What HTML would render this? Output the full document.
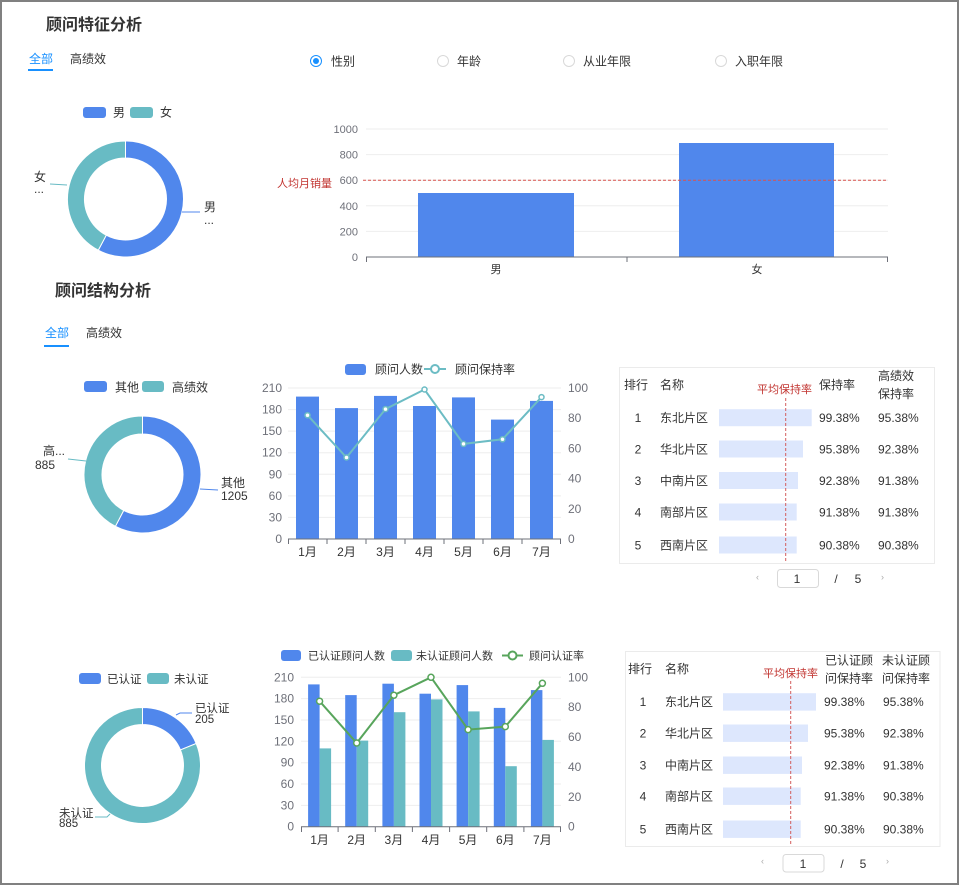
<!DOCTYPE html>
<html><head><meta charset="utf-8">
<style>
html,body{margin:0;padding:0;background:#fff;}
svg{display:block;font-family:"Liberation Sans","Noto Sans CJK SC",sans-serif;}
.t{font-size:12px;fill:#333;}
.ax{font-size:11px;fill:#6e7079;}
.ax2{font-size:12px;fill:#6e7079;}
.red{fill:#c23531;font-size:11px;}
</style></head>
<body>
<svg width="959" height="885" viewBox="0 0 959 885" xmlns="http://www.w3.org/2000/svg">
<rect x="1" y="1" width="957" height="883" fill="#fff" stroke="#808080" stroke-width="2"/>

<!-- Section 1 -->
<text x="46" y="30" font-size="16" font-weight="bold" fill="#333">顾问特征分析</text>
<text x="29" y="63" class="t" fill="#1890ff" style="fill:#1890ff">全部</text>
<rect x="28" y="69" width="25" height="2" fill="#1890ff"/>
<text x="70" y="63" class="t">高绩效</text>

<!-- radios -->
<circle cx="316" cy="61" r="5.5" fill="#fff" stroke="#1890ff" stroke-width="1"/>
<circle cx="316" cy="61" r="3" fill="#1890ff"/>
<text x="331" y="65.5" class="t">性别</text>
<circle cx="443" cy="61" r="5.5" fill="#fff" stroke="#d9d9d9"/>
<text x="457" y="65.5" class="t">年龄</text>
<circle cx="569" cy="61" r="5.5" fill="#fff" stroke="#d9d9d9"/>
<text x="583" y="65.5" class="t">从业年限</text>
<circle cx="721" cy="61" r="5.5" fill="#fff" stroke="#d9d9d9"/>
<text x="735" y="65.5" class="t">入职年限</text>

<!-- donut 1 -->
<rect x="83" y="107" width="23" height="11" rx="3" fill="#5087ec"/>
<text x="113" y="116.5" class="t">男</text>
<rect x="130" y="107" width="23" height="11" rx="3" fill="#68bbc4"/>
<text x="160" y="116.5" class="t">女</text>
<path d="M125.5 141 A58 58 0 1 1 98.27 250.21 L106.25 235.2 A41 41 0 1 0 125.5 158 Z" fill="#5087ec" stroke="#fff" stroke-width="1"/>
<path d="M98.27 250.21 A58 58 0 0 1 125.5 141 L125.5 158 A41 41 0 0 0 106.25 235.2 Z" fill="#68bbc4" stroke="#fff" stroke-width="1"/>
<polyline points="50,184 67,185" fill="none" stroke="#68bbc4"/>
<polyline points="182,212 200,212" fill="none" stroke="#5087ec"/>
<text x="34" y="181" class="t">女</text>
<text x="34" y="193" class="t">...</text>
<text x="204" y="211" class="t">男</text>
<text x="204" y="224" class="t">...</text>

<!-- bar chart 1 -->
<g stroke="#eeeeee" stroke-width="1">
<line x1="366" y1="129" x2="888" y2="129"/>
<line x1="366" y1="154.6" x2="888" y2="154.6"/>
<line x1="366" y1="205.8" x2="888" y2="205.8"/>
<line x1="366" y1="231.4" x2="888" y2="231.4"/>
<line x1="366" y1="180.2" x2="888" y2="180.2"/>
</g>
<rect x="418" y="193" width="156" height="64" fill="#5087ec"/>
<rect x="679" y="143" width="155" height="114" fill="#5087ec"/>
<line x1="363" y1="180.2" x2="888" y2="180.2" stroke="#d9534f" stroke-dasharray="3,2" stroke-width="1"/>
<line x1="366" y1="257" x2="888" y2="257" stroke="#6e7079"/>
<g stroke="#6e7079"><line x1="366.5" y1="257" x2="366.5" y2="262"/><line x1="627" y1="257" x2="627" y2="262"/><line x1="887.5" y1="257" x2="887.5" y2="262"/></g>
<g class="ax" text-anchor="end">
<text x="358" y="133">1000</text><text x="358" y="158.6">800</text><text x="358" y="184.2">600</text>
<text x="358" y="209.8">400</text><text x="358" y="235.4">200</text><text x="358" y="261">0</text>
</g>
<text x="277" y="187" class="red">人均月销量</text>
<text x="496" y="273" class="ax" text-anchor="middle" style="fill:#333">男</text>
<text x="757" y="273" class="ax" text-anchor="middle" style="fill:#333">女</text>

<!-- Section 2 -->
<text x="55" y="296" font-size="16" font-weight="bold" fill="#333">顾问结构分析</text>
<text x="45" y="337" class="t" style="fill:#1890ff">全部</text>
<rect x="44" y="345" width="25" height="2" fill="#1890ff"/>
<text x="86" y="337" class="t">高绩效</text>

<!-- donut 2 -->
<rect x="84" y="381" width="23" height="11" rx="3" fill="#5087ec"/>
<text x="115" y="391.5" class="t">其他</text>
<rect x="142" y="381" width="22" height="11" rx="3" fill="#68bbc4"/>
<text x="172" y="391.5" class="t">高绩效</text>
<path d="M142.5 416 A58.5 58.5 0 1 1 115.4 526.34 L123.74 510.39 A40.5 40.5 0 1 0 142.5 434 Z" fill="#5087ec" stroke="#fff" stroke-width="1"/>
<path d="M115.4 526.34 A58.5 58.5 0 0 1 142.5 416 L142.5 434 A40.5 40.5 0 0 0 123.74 510.39 Z" fill="#68bbc4" stroke="#fff" stroke-width="1"/>
<polyline points="68,459 86,461" fill="none" stroke="#68bbc4"/>
<polyline points="200,489 218,490" fill="none" stroke="#5087ec"/>
<text x="43" y="455" class="t">高...</text>
<text x="35" y="469" class="t">885</text>
<text x="221" y="487" class="t">其他</text>
<text x="221" y="500" class="t">1205</text>

<!-- chart 2 -->
<rect x="345" y="364" width="21" height="11" rx="3" fill="#5087ec"/>
<text x="375" y="373.5" class="t">顾问人数</text>
<line x1="424" y1="369" x2="446" y2="369" stroke="#6cbcc4" stroke-width="2"/>
<circle cx="435" cy="369" r="4" fill="#fff" stroke="#6cbcc4" stroke-width="2"/>
<text x="455" y="373.5" class="t">顾问保持率</text>
<g stroke="#eeeeee">
<line x1="288" y1="388" x2="561" y2="388"/><line x1="288" y1="409.6" x2="561" y2="409.6"/>
<line x1="288" y1="431.1" x2="561" y2="431.1"/><line x1="288" y1="452.7" x2="561" y2="452.7"/>
<line x1="288" y1="474.3" x2="561" y2="474.3"/><line x1="288" y1="495.9" x2="561" y2="495.9"/>
<line x1="288" y1="517.4" x2="561" y2="517.4"/>
</g>
<g fill="#5087ec">
<rect x="296" y="396.6" width="23" height="142.4"/>
<rect x="335" y="408.1" width="23" height="130.9"/>
<rect x="374" y="395.9" width="23" height="143.1"/>
<rect x="413" y="406" width="23" height="133"/>
<rect x="452" y="397.4" width="23" height="141.6"/>
<rect x="491" y="419.6" width="23" height="119.4"/>
<rect x="530" y="400.9" width="23" height="138.1"/>
</g>
<line x1="288" y1="539" x2="561" y2="539" stroke="#6e7079"/>
<g stroke="#6e7079">
<line x1="288.5" y1="539" x2="288.5" y2="544"/><line x1="327" y1="539" x2="327" y2="544"/><line x1="366" y1="539" x2="366" y2="544"/>
<line x1="405" y1="539" x2="405" y2="544"/><line x1="444" y1="539" x2="444" y2="544"/><line x1="483" y1="539" x2="483" y2="544"/>
<line x1="522" y1="539" x2="522" y2="544"/><line x1="560.5" y1="539" x2="560.5" y2="544"/>
</g>
<polyline points="307.5,415.2 346.5,457.5 385.5,409.1 424.5,389.5 463.5,443.9 502.5,439.3 541.5,397.1" fill="none" stroke="#6cbcc4" stroke-width="2"/>
<g fill="#fff" stroke="#6cbcc4" stroke-width="1.5">
<circle cx="307.5" cy="415.2" r="2.5"/><circle cx="346.5" cy="457.5" r="2.5"/><circle cx="385.5" cy="409.1" r="2.5"/>
<circle cx="424.5" cy="389.5" r="2.5"/><circle cx="463.5" cy="443.9" r="2.5"/><circle cx="502.5" cy="439.3" r="2.5"/>
<circle cx="541.5" cy="397.1" r="2.5"/>
</g>
<g class="ax2" text-anchor="end">
<text x="282" y="392">210</text><text x="282" y="413.6">180</text><text x="282" y="435.1">150</text>
<text x="282" y="456.7">120</text><text x="282" y="478.3">90</text><text x="282" y="499.9">60</text>
<text x="282" y="521.4">30</text><text x="282" y="543">0</text>
</g>
<g class="ax2">
<text x="568" y="392">100</text><text x="568" y="422.2">80</text><text x="568" y="452.4">60</text>
<text x="568" y="482.6">40</text><text x="568" y="512.8">20</text><text x="568" y="543">0</text>
</g>
<g class="ax2" text-anchor="middle" style="fill:#333">
<text x="307.5" y="556">1月</text><text x="346.5" y="556">2月</text><text x="385.5" y="556">3月</text>
<text x="424.5" y="556">4月</text><text x="463.5" y="556">5月</text><text x="502.5" y="556">6月</text>
<text x="541.5" y="556">7月</text>
</g>

<!-- table 1 -->
<rect x="619.5" y="367.5" width="315" height="196" fill="none" stroke="#ebebeb"/>
<text x="624" y="389" class="t">排行</text>
<text x="660" y="389" class="t">名称</text>
<text x="757" y="393" class="red">平均保持率</text>
<text x="819" y="389" class="t">保持率</text>
<text x="878" y="380" class="t">高绩效</text>
<text x="878" y="398" class="t">保持率</text>
<g fill="#dde7fd">
<rect x="719" y="409.2" width="92.7" height="17"/>
<rect x="719" y="440.5" width="84" height="17"/>
<rect x="719" y="472" width="79" height="17"/>
<rect x="719" y="503.5" width="77.7" height="17"/>
<rect x="719" y="536.5" width="77.7" height="17"/>
</g>
<line x1="785.7" y1="398" x2="785.7" y2="563" stroke="#d35d5d" stroke-dasharray="3,2"/>
<g class="t">
<text x="638" y="422" text-anchor="middle">1</text><text x="660" y="422">东北片区</text><text x="819" y="422">99.38%</text><text x="878" y="422">95.38%</text>
<text x="638" y="453.5" text-anchor="middle">2</text><text x="660" y="453.5">华北片区</text><text x="819" y="453.5">95.38%</text><text x="878" y="453.5">92.38%</text>
<text x="638" y="485" text-anchor="middle">3</text><text x="660" y="485">中南片区</text><text x="819" y="485">92.38%</text><text x="878" y="485">91.38%</text>
<text x="638" y="516.5" text-anchor="middle">4</text><text x="660" y="516.5">南部片区</text><text x="819" y="516.5">91.38%</text><text x="878" y="516.5">91.38%</text>
<text x="638" y="549.5" text-anchor="middle">5</text><text x="660" y="549.5">西南片区</text><text x="819" y="549.5">90.38%</text><text x="878" y="549.5">90.38%</text>
</g>
<text x="756" y="580" font-size="9" fill="#aaa">‹</text>
<rect x="777.5" y="569.5" width="41" height="18" rx="3" fill="#fff" stroke="#d9d9d9"/>
<text x="797" y="583" class="t" text-anchor="middle">1</text>
<text x="836" y="583" class="t" text-anchor="middle">/</text>
<text x="858" y="583" class="t" text-anchor="middle">5</text>
<text x="881" y="580" font-size="9" fill="#aaa">›</text>

<!-- donut 3 -->
<rect x="79" y="673" width="22" height="11" rx="3" fill="#5087ec"/>
<text x="107" y="683" class="t" style="font-size:11.5px">已认证</text>
<rect x="147" y="673" width="22" height="11" rx="3" fill="#68bbc4"/>
<text x="174" y="683" class="t" style="font-size:11.5px">未认证</text>
<path d="M142.5 707.5 A58 58 0 0 1 196.16 743.49 L180.43 749.94 A41 41 0 0 0 142.5 724.5 Z" fill="#5087ec" stroke="#fff" stroke-width="1"/>
<path d="M196.16 743.49 A58 58 0 1 1 142.5 707.5 L142.5 724.5 A41 41 0 1 0 180.43 749.94 Z" fill="#68bbc4" stroke="#fff" stroke-width="1"/>
<polyline points="176,715 180,713 192,713" fill="none" stroke="#5087ec"/>
<polyline points="95,817 107,817 110,814" fill="none" stroke="#68bbc4"/>
<text x="195" y="712" class="t" style="font-size:11.5px">已认证</text>
<text x="195" y="723" class="t" style="font-size:11.5px">205</text>
<text x="59" y="817" class="t" style="font-size:11.5px">未认证</text>
<text x="59" y="827" class="t" style="font-size:11.5px">885</text>

<!-- chart 3 -->
<rect x="281" y="650" width="20" height="11" rx="3" fill="#5087ec"/>
<text x="308" y="659.5" class="t" style="font-size:11px">已认证顾问人数</text>
<rect x="391" y="650" width="21" height="11" rx="3" fill="#68bbc4"/>
<text x="416" y="659.5" class="t" style="font-size:11px">未认证顾问人数</text>
<line x1="502" y1="655.5" x2="523" y2="655.5" stroke="#58a55c" stroke-width="2"/>
<circle cx="512.5" cy="655.5" r="4" fill="#fff" stroke="#58a55c" stroke-width="2"/>
<text x="529" y="659.5" class="t" style="font-size:11px">顾问认证率</text>
<g stroke="#eeeeee">
<line x1="301" y1="677.3" x2="561" y2="677.3"/><line x1="301" y1="698.6" x2="561" y2="698.6"/>
<line x1="301" y1="720" x2="561" y2="720"/><line x1="301" y1="741.3" x2="561" y2="741.3"/>
<line x1="301" y1="762.7" x2="561" y2="762.7"/><line x1="301" y1="784" x2="561" y2="784"/>
<line x1="301" y1="805.4" x2="561" y2="805.4"/>
</g>
<g fill="#5087ec">
<rect x="308.1" y="684.4" width="11.5" height="142.3"/>
<rect x="345.2" y="695.1" width="11.5" height="131.6"/>
<rect x="382.4" y="683.7" width="11.5" height="143"/>
<rect x="419.5" y="693.7" width="11.5" height="133"/>
<rect x="456.6" y="685.1" width="11.5" height="141.6"/>
<rect x="493.8" y="707.9" width="11.5" height="118.8"/>
<rect x="530.9" y="690.1" width="11.5" height="136.6"/>
</g>
<g fill="#68bbc4">
<rect x="319.6" y="748.4" width="11.5" height="78.3"/>
<rect x="356.7" y="740.6" width="11.5" height="86.1"/>
<rect x="393.9" y="712.2" width="11.5" height="114.5"/>
<rect x="431" y="699.4" width="11.5" height="127.3"/>
<rect x="468.1" y="711.4" width="11.5" height="115.3"/>
<rect x="505.3" y="766.2" width="11.5" height="60.5"/>
<rect x="542.4" y="739.9" width="11.5" height="86.8"/>
</g>
<line x1="301" y1="826.7" x2="561" y2="826.7" stroke="#6e7079"/>
<g stroke="#6e7079">
<line x1="301.5" y1="826.7" x2="301.5" y2="832"/><line x1="338.1" y1="826.7" x2="338.1" y2="832"/><line x1="375.3" y1="826.7" x2="375.3" y2="832"/>
<line x1="412.4" y1="826.7" x2="412.4" y2="832"/><line x1="449.6" y1="826.7" x2="449.6" y2="832"/><line x1="486.7" y1="826.7" x2="486.7" y2="832"/>
<line x1="523.9" y1="826.7" x2="523.9" y2="832"/><line x1="560.5" y1="826.7" x2="560.5" y2="832"/>
</g>
<polyline points="319.6,701.2 356.7,743 393.9,695.2 431,677.3 468.1,729.6 505.3,726.6 542.4,683.3" fill="none" stroke="#58a55c" stroke-width="2"/>
<g fill="#fff" stroke="#58a55c" stroke-width="1.5">
<circle cx="319.6" cy="701.2" r="3"/><circle cx="356.7" cy="743" r="3"/><circle cx="393.9" cy="695.2" r="3"/>
<circle cx="431" cy="677.3" r="3"/><circle cx="468.1" cy="729.6" r="3"/><circle cx="505.3" cy="726.6" r="3"/>
<circle cx="542.4" cy="683.3" r="3"/>
</g>
<g class="ax2" text-anchor="end">
<text x="294" y="681.3">210</text><text x="294" y="702.6">180</text><text x="294" y="724">150</text>
<text x="294" y="745.3">120</text><text x="294" y="766.7">90</text><text x="294" y="788">60</text>
<text x="294" y="809.4">30</text><text x="294" y="830.7">0</text>
</g>
<g class="ax2">
<text x="568" y="681.3">100</text><text x="568" y="711.2">80</text><text x="568" y="741.1">60</text>
<text x="568" y="770.9">40</text><text x="568" y="800.8">20</text><text x="568" y="830.7">0</text>
</g>
<g class="ax2" text-anchor="middle" style="fill:#333">
<text x="319.6" y="844">1月</text><text x="356.7" y="844">2月</text><text x="393.9" y="844">3月</text>
<text x="431" y="844">4月</text><text x="468.1" y="844">5月</text><text x="505.3" y="844">6月</text>
<text x="542.4" y="844">7月</text>
</g>

<!-- table 2 -->
<rect x="625.5" y="651.5" width="314.5" height="195" fill="none" stroke="#ebebeb"/>
<text x="628" y="673" class="t">排行</text>
<text x="665" y="673" class="t">名称</text>
<text x="763" y="677" class="red">平均保持率</text>
<text x="825" y="664.5" class="t">已认证顾</text>
<text x="825" y="682.5" class="t">问保持率</text>
<text x="882" y="664.5" class="t">未认证顾</text>
<text x="882" y="682.5" class="t">问保持率</text>
<g fill="#dde7fd">
<rect x="723" y="693.2" width="93" height="17.4"/>
<rect x="723" y="724.5" width="85" height="17.4"/>
<rect x="723" y="756.5" width="79" height="17.4"/>
<rect x="723" y="787.5" width="77.7" height="17.4"/>
<rect x="723" y="820.5" width="77.7" height="17.4"/>
</g>
<line x1="790.7" y1="681" x2="790.7" y2="846" stroke="#d35d5d" stroke-dasharray="3,2"/>
<g class="t">
<text x="643" y="706" text-anchor="middle">1</text><text x="665" y="706">东北片区</text><text x="824" y="706">99.38%</text><text x="883" y="706">95.38%</text>
<text x="643" y="737.5" text-anchor="middle">2</text><text x="665" y="737.5">华北片区</text><text x="824" y="737.5">95.38%</text><text x="883" y="737.5">92.38%</text>
<text x="643" y="769.5" text-anchor="middle">3</text><text x="665" y="769.5">中南片区</text><text x="824" y="769.5">92.38%</text><text x="883" y="769.5">91.38%</text>
<text x="643" y="800.5" text-anchor="middle">4</text><text x="665" y="800.5">南部片区</text><text x="824" y="800.5">91.38%</text><text x="883" y="800.5">90.38%</text>
<text x="643" y="833.5" text-anchor="middle">5</text><text x="665" y="833.5">西南片区</text><text x="824" y="833.5">90.38%</text><text x="883" y="833.5">90.38%</text>
</g>
<text x="761" y="864" font-size="9" fill="#aaa">‹</text>
<rect x="783" y="854.5" width="41" height="17.5" rx="3" fill="#fff" stroke="#d9d9d9"/>
<text x="803" y="868" class="t" text-anchor="middle">1</text>
<text x="842" y="868" class="t" text-anchor="middle">/</text>
<text x="863" y="868" class="t" text-anchor="middle">5</text>
<text x="886" y="864" font-size="9" fill="#aaa">›</text>
</svg>
</body></html>
